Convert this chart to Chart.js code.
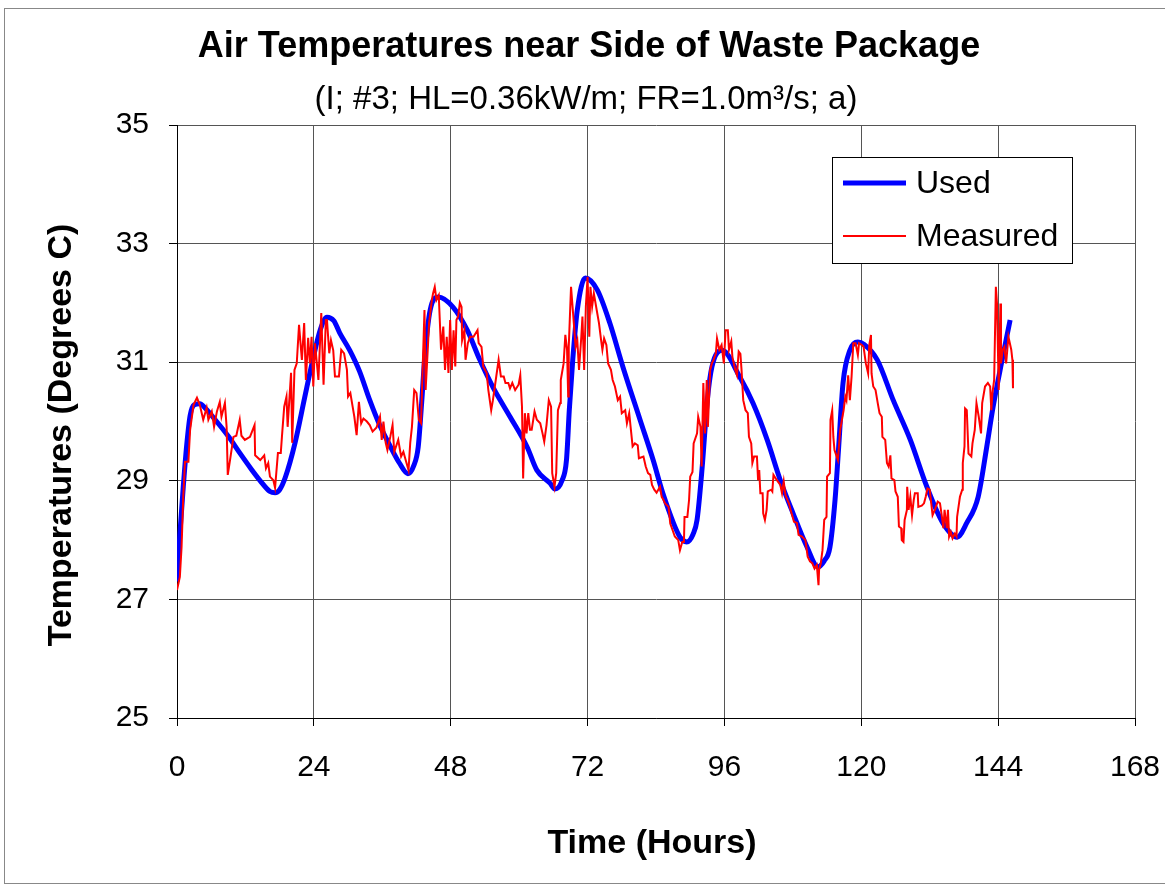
<!DOCTYPE html>
<html>
<head>
<meta charset="utf-8">
<script src="https://cdn.jsdelivr.net/npm/chart.js@4.4.1/dist/chart.umd.min.js"></script>
<style>
  html, body { margin: 0; padding: 0; background: #fff; }
  #wrap { position: relative; width: 1165px; height: 886px; }
  #frame { position: absolute; left: 4px; top: 8px; width: 1170px; height: 876px; border: 1px solid #888; box-sizing: border-box; }
  canvas { position: absolute; left: 0; top: 0; }
</style>
</head>
<body>
<div id="wrap">
  <div id="frame"></div>
  <canvas id="airTemp" width="1165" height="886"></canvas>
</div>
<script>
// model curve
const usedHours = [0, 0.5, 1.1, 1.7, 2.3, 3, 4, 5, 6.7, 9, 11, 13, 14.6, 16.3, 17.2, 18, 19, 20.7, 22.4, 23.7, 25.1, 26.3, 27.5, 28.5, 30.3, 32, 33.8, 35.5, 37.3, 39, 40.5, 41.5, 42.3, 42.9, 43.5, 44.4, 45.8, 48.4, 50.9, 53.1, 55.4, 58.4, 61.4, 63.1, 65.4, 66.3, 67.5, 68.3, 68.8, 69.4, 70.2, 71.6, 73.7, 75.9, 78.2, 81.2, 83.5, 85.2, 88.2, 89.4, 90.5, 91.2, 92.1, 93, 93.8, 95.6, 98.7, 101, 103.5, 105.8, 108, 110.5, 112.4, 113.5, 114.5, 115.4, 116, 116.8, 118, 119.4, 120.5, 122.8, 125.6, 128.6, 131.5, 134.3, 136.8, 138.5, 140.5, 142, 143.1, 144.7, 146.1];
const usedTemps = [27.3, 28.1, 28.9, 29.6, 30.1, 30.28, 30.3, 30.22, 30.03, 29.75, 29.47, 29.2, 29.0, 28.82, 28.8, 28.85, 29.06, 29.64, 30.41, 30.99, 31.54, 31.76, 31.7, 31.5, 31.2, 30.85, 30.36, 29.95, 29.6, 29.3, 29.12, 29.25, 29.57, 30.31, 31.15, 31.88, 32.1, 31.93, 31.54, 31.04, 30.58, 30.08, 29.57, 29.18, 28.96, 28.86, 29.0, 29.35, 30.2, 31.04, 31.88, 32.42, 32.22, 31.66, 30.92, 30.03, 29.35, 28.79, 28.05, 27.97, 28.1, 28.34, 29.23, 30.36, 30.92, 31.2, 30.75, 30.31, 29.69, 29.01, 28.46, 27.88, 27.55, 27.65, 27.88, 28.68, 29.52, 30.65, 31.2, 31.34, 31.3, 31.04, 30.36, 29.69, 28.9, 28.29, 28.05, 28.29, 28.73, 29.57, 30.24, 31.04, 31.71];

// logged air temperature
const measuredHours = [0, 0.5, 0.8, 1.1, 1.4, 2.0, 2.3, 2.9, 3.5, 4.0, 4.6, 5.2, 5.5, 6.1, 6.5, 7.0, 7.5, 7.8, 8.4, 8.7, 8.9, 9.3, 9.9, 10.4, 11.0, 11.3, 11.9, 12.8, 13.6, 13.7, 14.6, 15.3, 15.6, 16.0, 16.3, 16.9, 17.2, 17.7, 18.2, 18.4, 18.8, 19.2, 19.4, 20.0, 20.2, 20.6, 21.0, 21.4, 21.9, 22.3, 22.6, 23.0, 23.3, 23.6, 23.9, 24.2, 24.8, 25.3, 25.7, 26.1, 26.3, 26.7, 27.0, 27.4, 27.7, 28.4, 28.8, 29.3, 29.8, 30.0, 30.4, 30.8, 31.1, 31.5, 31.9, 32.3, 32.7, 33.3, 33.8, 34.3, 35.0, 35.6, 35.9, 36.2, 36.6, 36.9, 37.4, 37.8, 38.1, 38.8, 39.3, 39.7, 40.1, 40.6, 40.9, 41.2, 41.6, 42.0, 42.4, 42.8, 43.0, 43.4, 43.6, 44.0, 44.2, 44.7, 44.9, 45.2, 45.5, 45.9, 46.3, 46.7, 47.0, 47.3, 47.6, 47.9, 48.2, 48.5, 48.8, 49.0, 49.3, 49.6, 49.9, 50.0, 50.4, 50.6, 51.0, 51.4, 52.0, 52.7, 52.9, 53.4, 53.7, 54.3, 54.6, 55.1, 55.4, 55.9, 56.4, 56.8, 57.3, 57.6, 58.1, 58.4, 58.8, 59.3, 59.9, 60.2, 60.5, 60.7, 61.0, 61.3, 61.6, 61.9, 62.2, 62.7, 63.1, 63.7, 64.1, 64.4, 64.8, 65.2, 65.6, 65.8, 66.2, 66.5, 66.8, 67.2, 67.3, 67.8, 68.1, 68.4, 68.6, 68.7, 69.1, 69.5, 69.9, 70.2, 70.5, 70.9, 71.1, 71.4, 71.7, 72.0, 72.3, 72.5, 72.8, 73.1, 73.6, 74.0, 74.4, 74.6, 74.9, 75.3, 75.6, 76.1, 76.4, 76.8, 77.3, 77.7, 78.0, 78.6, 78.9, 79.3, 79.6, 79.9, 80.3, 80.8, 81.0, 81.8, 82.2, 82.6, 83.0, 83.3, 83.7, 84.1, 84.7, 85.0, 85.3, 85.6, 86.2, 86.5, 86.9, 87.3, 87.9, 88.2, 88.6, 88.9, 89.0, 89.5, 89.8, 90.0, 90.4, 90.6, 91.2, 91.4, 91.8, 92.0, 92.3, 92.6, 92.9, 93.1, 93.5, 93.8, 94.1, 94.5, 94.7, 95.1, 95.5, 95.9, 96.2, 96.6, 96.8, 97.2, 97.4, 97.9, 98.2, 98.5, 98.8, 99.0, 99.3, 99.7, 100.1, 100.3, 100.7, 100.9, 101.2, 101.7, 101.9, 102.1, 102.3, 102.7, 102.8, 103.1, 103.4, 103.6, 104.2, 104.4, 104.6, 105.2, 105.8, 106.1, 106.4, 106.7, 107.3, 107.6, 108.2, 108.7, 109.0, 109.6, 110.2, 110.6, 111.0, 111.4, 111.8, 112.2, 112.5, 112.6, 112.9, 113.2, 113.5, 113.9, 114.0, 114.5, 114.6, 114.9, 115.1, 115.3, 115.9, 116.3, 116.9, 117.2, 117.4, 117.7, 118.0, 118.3, 118.6, 119.0, 119.4, 119.6, 120.1, 120.4, 120.8, 121.2, 121.4, 121.7, 121.8, 122.1, 122.5, 122.9, 123.2, 123.6, 123.7, 124.2, 124.5, 124.8, 125.1, 125.3, 125.8, 126.0, 126.4, 126.6, 127.0, 127.1, 127.4, 127.6, 128.0, 128.05, 128.3, 128.6, 128.9, 129.2, 129.4, 129.9, 130.0, 130.6, 131.0, 131.3, 131.6, 132.0, 132.5, 132.9, 133.4, 133.8, 134.1, 134.4, 134.6, 135.0, 135.2, 135.4, 135.7, 136.0, 136.4, 136.7, 136.8, 137.3, 137.7, 137.8, 138.1, 138.2, 138.5, 138.8, 139.3, 139.5, 139.9, 140.2, 140.6, 141.0, 141.2, 141.7, 142.2, 142.6, 142.8, 143.0, 143.3, 143.6, 143.8, 144.1, 144.4, 144.5, 144.8, 145.1, 145.4, 145.8, 146.3, 146.5, 146.6];
const measuredTemps = [27.16, 27.38, 27.88, 28.73, 29.32, 29.32, 29.86, 30.28, 30.4, 30.28, 30.03, 30.23, 30.03, 30.17, 29.91, 30.17, 30.33, 30.08, 30.31, 29.91, 29.1, 29.35, 29.74, 29.76, 30.03, 29.76, 29.69, 29.74, 29.94, 29.43, 29.35, 29.43, 29.21, 29.3, 29.07, 29.01, 28.88, 29.47, 29.47, 29.74, 30.25, 30.42, 29.91, 30.82, 29.64, 30.87, 30.98, 31.63, 31.04, 31.66, 30.7, 31.41, 30.98, 31.43, 30.59, 31.32, 30.7, 31.83, 30.62, 31.71, 31.71, 31.15, 31.37, 31.2, 30.76, 30.76, 31.21, 31.15, 30.87, 30.42, 30.48, 30.25, 30.08, 29.77, 30.33, 29.97, 30.05, 30.0, 29.94, 29.83, 29.9, 30.08, 29.69, 30.0, 29.64, 29.52, 29.74, 29.94, 29.49, 29.69, 29.41, 29.49, 29.35, 29.18, 29.64, 29.91, 30.53, 30.48, 30.03, 29.97, 30.65, 31.88, 30.53, 31.26, 31.66, 32.05, 32.16, 32.27, 32.05, 32.13, 31.21, 31.6, 30.87, 31.43, 30.82, 31.71, 30.87, 31.54, 30.93, 31.71, 31.77, 32.0, 31.93, 31.37, 31.54, 31.04, 31.32, 31.43, 31.43, 31.54, 31.32, 31.26, 30.93, 30.82, 30.53, 30.19, 30.36, 30.7, 31.04, 30.76, 30.76, 30.65, 30.65, 30.56, 30.65, 30.53, 30.62, 30.78, 30.25, 29.04, 30.14, 29.8, 30.14, 29.86, 29.86, 30.17, 30.03, 29.97, 29.8, 29.66, 29.94, 30.36, 30.25, 29.13, 28.9, 29.13, 30.19, 30.31, 30.7, 30.98, 31.46, 31.21, 30.42, 31.26, 32.27, 31.77, 31.26, 31.37, 30.87, 31.43, 31.77, 30.87, 31.94, 32.44, 31.43, 32.27, 31.94, 32.16, 31.88, 31.66, 31.35, 31.21, 31.4, 31.29, 30.98, 30.87, 30.7, 30.59, 30.36, 30.42, 30.14, 30.19, 29.97, 30.14, 29.86, 29.58, 29.63, 29.6, 29.38, 29.41, 29.24, 29.13, 29.1, 28.93, 28.85, 28.8, 28.9, 28.73, 28.68, 28.62, 28.56, 28.28, 28.17, 28.06, 28.0, 27.83, 27.97, 27.97, 28.39, 28.39, 28.68, 29.07, 29.15, 29.63, 29.8, 30.08, 29.91, 29.24, 30.65, 29.8, 30.7, 29.91, 30.87, 30.98, 31.04, 31.15, 31.4, 31.21, 31.29, 30.98, 31.54, 31.54, 31.21, 31.35, 31.09, 30.87, 30.78, 31.18, 31.14, 30.87, 30.36, 30.19, 30.14, 29.74, 29.63, 29.3, 29.41, 29.41, 29.01, 29.18, 28.79, 28.79, 28.45, 28.34, 28.51, 28.82, 28.85, 28.82, 29.1, 29.01, 28.93, 28.79, 28.99, 28.76, 28.62, 28.51, 28.31, 28.29, 28.09, 28.06, 28.0, 27.72, 27.64, 27.61, 27.52, 27.58, 27.24, 27.5, 27.61, 27.83, 28.34, 28.39, 29.07, 29.13, 30.03, 30.19, 29.74, 29.52, 29.35, 29.86, 30.19, 30.42, 30.36, 30.78, 30.36, 30.76, 31.32, 31.32, 31.12, 31.32, 31.29, 31.26, 30.98, 30.81, 31.29, 31.46, 30.81, 30.59, 30.53, 30.3, 30.14, 30.08, 29.74, 29.69, 29.3, 29.24, 29.43, 29.04, 29.01, 28.82, 28.73, 28.23, 28.2, 28.0, 27.97, 28.34, 28.51, 28.9, 28.51, 28.73, 28.42, 28.68, 28.79, 28.79, 28.56, 28.58, 28.62, 28.73, 28.87, 28.85, 28.42, 28.51, 28.65, 28.62, 28.42, 28.2, 28.51, 28.2, 28.51, 28.06, 28.14, 28.03, 28.11, 28.06, 28.39, 28.73, 28.85, 29.3, 29.58, 30.22, 30.19, 29.46, 29.41, 29.63, 29.86, 30.31, 30.08, 29.8, 30.31, 30.59, 30.65, 30.59, 30.19, 30.48, 30.7, 32.27, 31.99, 30.53, 31.99, 30.98, 31.21, 31.26, 30.98, 31.43, 31.21, 31.04, 30.56];

const xTicks = [0, 24, 48, 72, 96, 120, 144, 168];
const yTicks = [25, 27, 29, 31, 33, 35];

const FONT = '"Liberation Sans", Arial, sans-serif';

function toPoints(xs, ys) {
  return xs.map((x, i) => ({ x: x, y: ys[i] }));
}

// keep the plot box fixed: no extra room for overhanging end labels
function fixPadding(s) {
  s.paddingLeft = 0;
  s.paddingRight = 0;
  s.paddingTop = 0;
  s.paddingBottom = 0;
}

// titles, axis titles and the legend box
const decorations = {
  id: 'decorations',
  afterDraw(chart) {
    const c = chart.ctx;
    c.save();
    c.fillStyle = '#000';
    c.textAlign = 'center';
    c.textBaseline = 'middle';
    c.font = 'bold 36px ' + FONT;
    c.fillText('Air Temperatures near Side of Waste Package', 589, 47);
    c.font = '33px ' + FONT;
    c.fillText('(I; #3; HL=0.36kW/m; FR=1.0m\u00b3/s; a)', 586, 100);
    c.font = 'bold 34px ' + FONT;
    c.fillText('Time (Hours)', 652, 844);
    c.translate(62, 435);
    c.rotate(-Math.PI / 2);
    c.fillText('Temperatures (Degrees C)', 0, 0);
    c.restore();

    // legend
    c.save();
    c.fillStyle = '#fff';
    c.fillRect(832, 157, 240, 106);
    c.strokeStyle = '#000';
    c.lineWidth = 1;
    c.strokeRect(832.5, 157.5, 240, 106);
    const items = chart.data.datasets;
    const rows = [183, 236];
    items.forEach((ds, i) => {
      const y = rows[i];
      c.strokeStyle = ds.borderColor;
      c.lineWidth = ds.borderWidth;
      c.beginPath();
      c.moveTo(843, y);
      c.lineTo(906, y);
      c.stroke();
      c.fillStyle = '#000';
      c.font = '32px ' + FONT;
      c.textAlign = 'left';
      c.textBaseline = 'middle';
      c.fillText(ds.label, 916, y + 1);
    });
    c.restore();
  }
};

const ctx = document.getElementById('airTemp').getContext('2d');
const airTemp = new Chart(ctx, {
  type: 'line',
  data: {
    datasets: [{
      label: 'Used',
      data: toPoints(usedHours, usedTemps),
      borderColor: '#0000ff',
      borderWidth: 5,
      pointRadius: 0,
      tension: 0.4,
      cubicInterpolationMode: 'monotone',
      order: 1
    }, {
      label: 'Measured',
      data: toPoints(measuredHours, measuredTemps),
      borderColor: '#ff0000',
      borderWidth: 2,
      pointRadius: 0,
      tension: 0,
      order: 0
    }]
  },
  options: {
    responsive: false,
    animation: false,
    devicePixelRatio: 1,
    layout: { padding: { top: 125, right: 30, left: 0, bottom: 0 } },
    plugins: {
      legend: { display: false },
      title: { display: false },
      tooltip: { enabled: false }
    },
    scales: {
      x: {
        type: 'linear',
        min: 0,
        max: 168,
        afterBuildTicks: s => { s.ticks = xTicks.map(v => ({ value: v })); },
        afterFit: s => { s.height = 886 - 718; fixPadding(s); },
        ticks: {
          color: '#000',
          font: { family: FONT, size: 30 },
          padding: 24,
          maxRotation: 0
        },
        grid: { color: '#555', lineWidth: 1, tickLength: 8, tickColor: '#000' },
        border: { color: '#000', width: 1 }
      },
      y: {
        type: 'linear',
        min: 25,
        max: 35,
        afterBuildTicks: s => { s.ticks = yTicks.map(v => ({ value: v })); },
        afterFit: s => { s.width = 177; fixPadding(s); },
        ticks: {
          color: '#000',
          font: { family: FONT, size: 30 },
          padding: 20
        },
        grid: { color: '#555', lineWidth: 1, tickLength: 8, tickColor: '#000' },
        border: { color: '#000', width: 1 }
      }
    }
  },
  plugins: [decorations]
});
</script>
</body>
</html>
